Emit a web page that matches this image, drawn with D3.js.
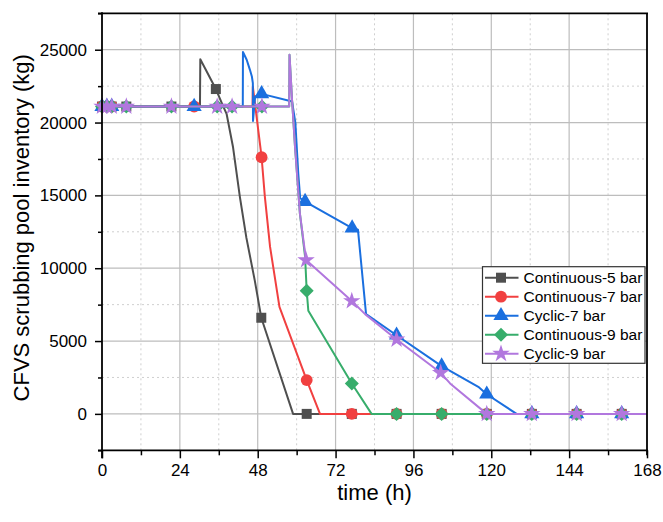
<!DOCTYPE html>
<html><head><meta charset="utf-8">
<script src="https://cdn.jsdelivr.net/npm/d3@7"></script>
<style>body{margin:0;background:#fff} svg{display:block}</style>
</head><body><svg id="c" width="663" height="522"></svg>
<script>
// ---- data ----
const seriesNames = ["Continuous-5 bar","Continuous-7 bar","Cyclic-7 bar","Continuous-9 bar","Cyclic-9 bar"];
const seriesColors = ["#4f4f4f","#F14040","#1A6FDF","#37AD6B","#B177DE"];
const seriesSymbols = ["square","circle","triangle","diamond","star"];

const xTickVals = [0,24,48,72,96,120,144,168];
const xMinorVals = [12,36,60,84,108,132,156];
const yTickVals = [0,5000,10000,15000,20000,25000];
const yMinorVals = [-2500,2500,7500,12500,17500,22500,27500];

// Continuous-5 bar
const c5T = [0,30.2,30.3,35.1,37.0,38.4,40.4,42.5,44.5,47.1,49.1,58.9,168];
const c5V = [21100,21100,24350,22300,21300,20600,18300,14900,12100,9150,6600,0,0];
const c5MT = [0,1.5,3,7.5,21.4,35.1,49.1,63.1,77.0,90.8,104.7,118.6,132.5,146.3,160.2];
const c5MV = [21100,21100,21100,21100,21100,22300,6600,0,0,0,0,0,0,0,0];
// Continuous-7 bar
const c7T = [0,46.4,46.5,49.2,50.2,51.8,54.7,63.1,67.2,168];
const c7V = [21100,21100,22470,17620,14910,11480,7350,2320,0,0];
const c7MT = [0,1.5,3,28.4,49.2,63.1,77.0,90.8,104.7,118.6,132.5,146.3,160.2];
const c7MV = [21100,21100,21100,21100,17620,2320,0,0,0,0,0,0,0];
// Cyclic-7 bar
const y7T = [0,43.4,43.45,44.6,45.6,46.2,46.5,46.55,47.2,49.2,58.6,59.6,60.5,61.1,62.6,77.1,78.9,81.4,90.8,104.7,116.0,118.6,127.8,168];
const y7V = [21100,21100,24840,24310,23620,23160,22710,20110,21790,21970,21440,20000,16500,14800,14570,12760,12650,6850,5400,3280,1860,1350,0,0];
const y7MT = [0,1.5,3,28.4,49.2,62.6,77.1,90.8,104.7,118.6,132.5,146.3,160.2];
const y7MV = [21100,21100,21100,21100,21970,14570,12760,5400,3280,1350,0,0,0];
// Continuous-9 bar
const c9T = [0,57.7,57.8,58.6,59.5,61.0,62.6,63.1,63.6,77.0,83.1,168];
const c9V = [21100,21100,24650,21500,18350,13770,10800,8450,7080,2090,0,0];
const c9MT = [0,1.5,3,7.5,21.4,35.5,40.1,49.3,63.1,77.0,90.8,104.7,118.6,132.5,146.3,160.2];
const c9MV = [21100,21100,21100,21100,21100,21100,21100,21100,8450,2090,0,0,0,0,0,0];
// Cyclic-9 bar
const y9T = [0,57.7,57.8,58.6,59.5,61.0,62.9,77.0,81.1,90.8,104.4,107.3,118.6,168];
const y9V = [21100,21100,24650,21500,18350,13770,10560,7750,6850,5110,2820,2090,0,0];
const y9MT = [0,1.5,3,7.5,21.4,35.5,40.1,49.3,62.9,77.0,90.8,104.4,118.6,132.5,146.3,160.2];
const y9MV = [21100,21100,21100,21100,21100,21100,21100,21100,10560,7750,5110,2820,0,0,0,0];

const lineT = [c5T,c7T,y7T,c9T,y9T];
const lineV = [c5V,c7V,y7V,c9V,y9V];
const markT = [c5MT,c7MT,y7MT,c9MT,y9MT];
const markV = [c5MV,c7MV,y7MV,c9MV,y9MV];

// ---- chart ----
const svg = d3.select("#c");
const font = "'Liberation Sans', Arial, sans-serif";
const L = 102, R = 647, T = 13.3, B = 450.3;
const x = d3.scaleLinear().domain([0,168]).range([L,R]);
const y = d3.scaleLinear().domain([-2500,27500]).range([B,T]);

// grid
const g = svg.append("g");
g.selectAll(".gxm").data(xMinorVals).join("line")
  .attr("x1",d=>x(d)).attr("x2",d=>x(d)).attr("y1",T).attr("y2",B)
  .attr("stroke","#cfcfcf").attr("stroke-width",1).attr("stroke-dasharray","2,3");
g.selectAll(".gym").data(yMinorVals.filter(v=>v>-2500&&v<27500)).join("line")
  .attr("x1",L).attr("x2",R).attr("y1",d=>y(d)).attr("y2",d=>y(d))
  .attr("stroke","#cfcfcf").attr("stroke-width",1).attr("stroke-dasharray","2,3");
g.selectAll(".gx").data(xTickVals.filter(v=>v>0&&v<168)).join("line")
  .attr("x1",d=>x(d)).attr("x2",d=>x(d)).attr("y1",T).attr("y2",B)
  .attr("stroke","#bdbdbd").attr("stroke-width",1.2);
g.selectAll(".gy").data(yTickVals).join("line")
  .attr("x1",L).attr("x2",R).attr("y1",d=>y(d)).attr("y2",d=>y(d))
  .attr("stroke","#bdbdbd").attr("stroke-width",1.2);

// symbols
function symPath(type){
  if(type==="square") return d3.symbol(d3.symbolSquare,100)();
  if(type==="circle") return d3.symbol(d3.symbolCircle,110)();
  if(type==="triangle") return d3.symbol(d3.symbolTriangle,100)();
  if(type==="star") return d3.symbol(d3.symbolStar,95)();
  if(type==="diamond"){ const r=7; return `M0,${-r}L${r},0L0,${r}L${-r},0Z`; }
}

const line = d3.line().x(d=>x(d[0])).y(d=>y(d[1]));
seriesNames.forEach((name,i)=>{
  const pts = lineT[i].map((t,j)=>[t,lineV[i][j]]);
  const mk = markT[i].map((t,j)=>[t,markV[i][j]]);
  const sg = svg.append("g");
  sg.append("path").datum(pts).attr("d",line).attr("fill","none")
    .attr("stroke",seriesColors[i]).attr("stroke-width",2).attr("stroke-linejoin","round");
  sg.selectAll("path.m").data(mk).join("path").attr("class","m")
    .attr("transform",d=>`translate(${x(d[0])},${y(d[1])})`)
    .attr("d",symPath(seriesSymbols[i])).attr("fill",seriesColors[i]);
});

// axes
const axG = svg.append("g");
axG.append("g").attr("transform",`translate(0,${B})`)
  .call(d3.axisBottom(x).tickValues(xTickVals).tickSize(8).tickPadding(6).tickFormat(d3.format("d")));
axG.append("g").attr("transform",`translate(0,${B})`)
  .call(d3.axisBottom(x).tickValues(xMinorVals).tickSize(5).tickFormat(""));
axG.append("g").attr("transform",`translate(${L},0)`)
  .call(d3.axisLeft(y).tickValues(yTickVals).tickSize(7).tickPadding(8).tickFormat(d3.format("d")));
axG.append("g").attr("transform",`translate(${L},0)`)
  .call(d3.axisLeft(y).tickValues(yMinorVals).tickSize(4).tickFormat(""));
axG.selectAll(".domain").remove();
axG.selectAll(".tick line").attr("stroke","#000").attr("stroke-width",1.5);
axG.selectAll(".tick text").attr("font-family",font).attr("font-size",17).attr("fill","#000");
// frame
axG.append("line").attr("x1",L-4).attr("x2",R+1).attr("y1",B).attr("y2",B).attr("stroke","#000").attr("stroke-width",1.8);
axG.append("line").attr("x1",L).attr("x2",L).attr("y1",T-1).attr("y2",B+8).attr("stroke","#000").attr("stroke-width",1.8);
axG.append("line").attr("x1",L-4).attr("x2",R+1).attr("y1",T).attr("y2",T).attr("stroke","#000").attr("stroke-width",1.8);
axG.append("line").attr("x1",R).attr("x2",R).attr("y1",T).attr("y2",B+5).attr("stroke","#000").attr("stroke-width",1.8);

// titles
svg.append("text").attr("x",(L+R)/2).attr("y",500).attr("text-anchor","middle")
  .attr("font-family",font).attr("font-size",22).text("time (h)");
svg.append("text").attr("transform",`translate(29,${(T+B)/2 - 4}) rotate(-90)`).attr("text-anchor","middle")
  .attr("font-family",font).attr("font-size",22).text("CFVS scrubbing pool inventory (kg)");

// legend
const lg = svg.append("g");
const lx = 482.5, ly = 266.7, lw = 162.5, lh = 96.6;
lg.append("rect").attr("x",lx).attr("y",ly).attr("width",lw).attr("height",lh)
  .attr("fill","#fff").attr("stroke","#333").attr("stroke-width",1.2);
seriesNames.forEach((name,i)=>{
  const yy = ly + 11 + i*19;
  lg.append("line").attr("x1",lx+2.5).attr("x2",lx+36).attr("y1",yy).attr("y2",yy)
    .attr("stroke",seriesColors[i]).attr("stroke-width",2);
  lg.append("path").attr("transform",`translate(${lx+18.5},${yy})`).attr("d",symPath(seriesSymbols[i])).attr("fill",seriesColors[i]);
  lg.append("text").attr("x",lx+41).attr("y",yy).attr("dy","0.36em")
    .attr("font-family",font).attr("font-size",15.5).text(name);
});
</script></body></html>
